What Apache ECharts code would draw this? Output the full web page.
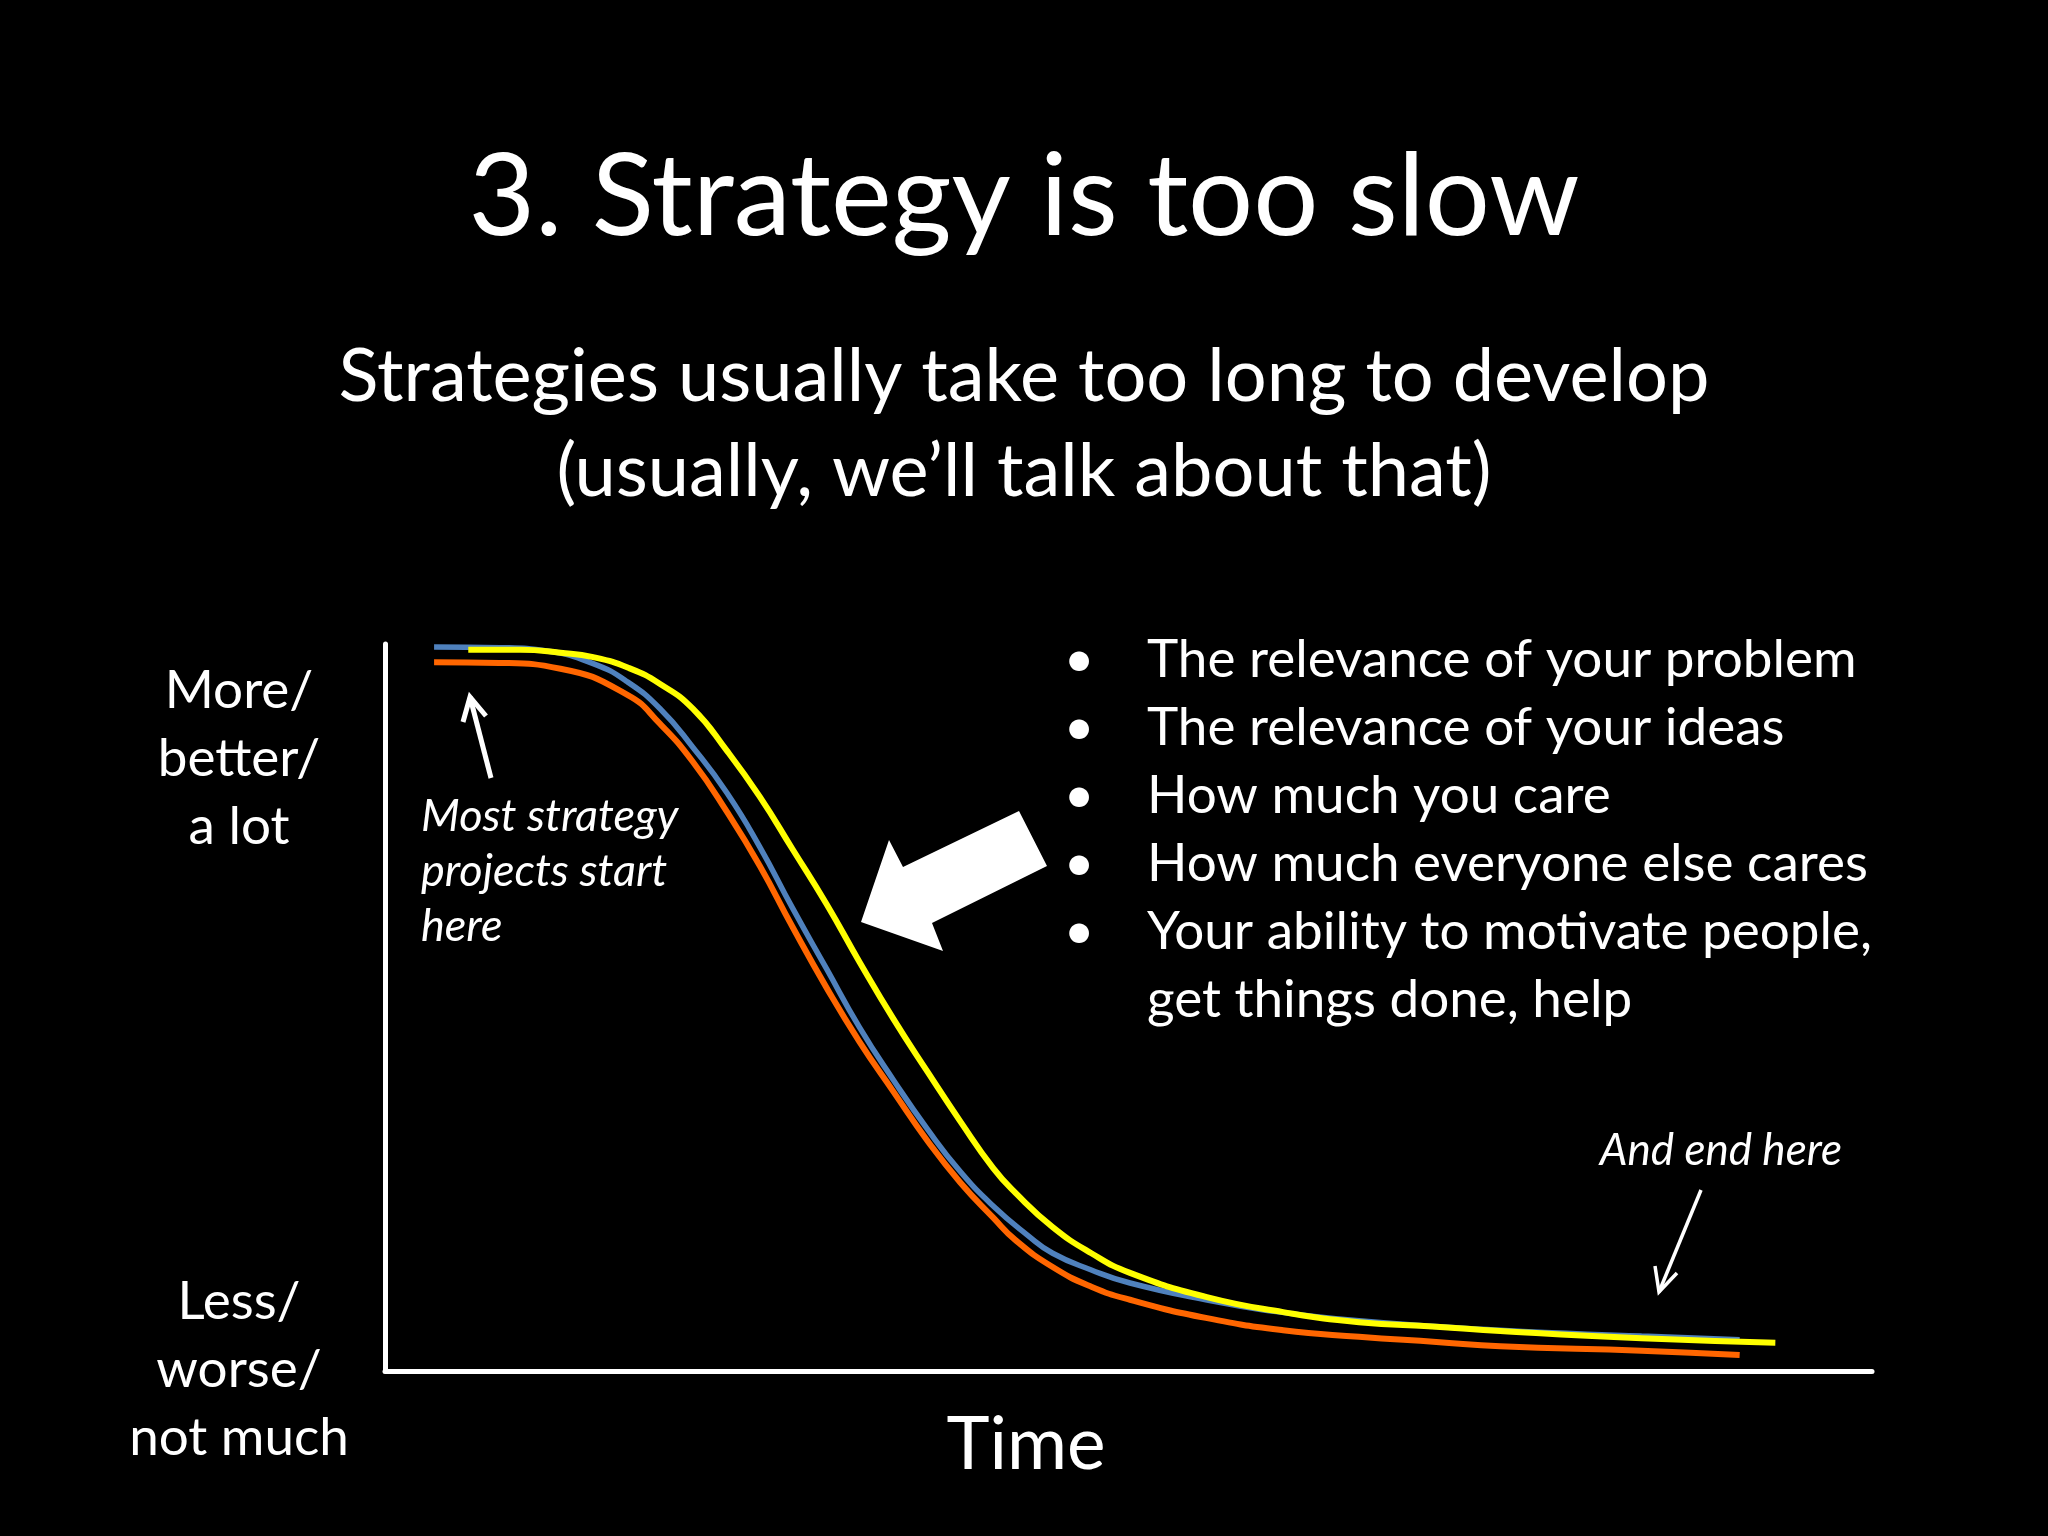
<!DOCTYPE html>
<html>
<head>
<meta charset="utf-8">
<script src="https://cdn.jsdelivr.net/npm/echarts@6/dist/echarts.min.js"></script>
<style>html,body{margin:0;padding:0;background:#000;}#c{width:2048px;height:1536px;}</style>
</head>
<body>
<div id="c"></div>
<script>
// ---- data (time 0-100, level 0-100) ----
var orangeTime  = [3.3, 7.7, 11.8, 16.3, 18.5, 20.7, 23.0, 25.2, 27.4, 29.7, 31.9, 34.2, 36.5, 38.7, 40.9, 42.4, 44.9, 47.5, 50.1, 55.2, 60.4, 65.5, 70.7, 75.0, 84.5, 91.1];
var orangeLevel = [97.5, 97.4, 96.6, 93.0, 89.0, 83.8, 76.9, 69.5, 61.1, 52.7, 45.3, 38.4, 31.6, 25.9, 21.1, 18.0, 14.3, 11.6, 9.8, 7.3, 5.6, 4.7, 4.0, 3.4, 2.8, 2.2];
var blueTime  = [3.3, 7.7, 11.0, 14.0, 16.3, 18.5, 20.7, 23.0, 25.2, 27.4, 29.7, 31.9, 34.2, 36.5, 38.7, 40.9, 43.2, 44.9, 47.5, 50.1, 55.2, 59.1, 65.5, 75.0, 84.5, 91.1];
var blueLevel = [99.6, 99.5, 99.0, 97.3, 94.8, 91.1, 85.8, 79.5, 72.1, 63.7, 55.3, 47.3, 40.0, 33.2, 27.4, 22.7, 18.7, 16.2, 13.9, 12.1, 9.8, 8.4, 6.9, 5.6, 4.8, 4.3];
var yellowTime  = [5.6, 9.1, 11.8, 14.0, 16.4, 18.5, 20.7, 23.0, 25.2, 27.4, 29.7, 31.9, 34.2, 36.5, 38.7, 40.9, 42.4, 44.9, 47.5, 50.1, 55.2, 60.4, 65.5, 70.7, 75.0, 84.5, 93.5];
var yellowLevel = [99.2, 99.2, 98.8, 98.2, 96.7, 94.5, 91.1, 85.3, 79.0, 71.8, 64.2, 56.3, 48.4, 41.1, 34.3, 27.9, 24.5, 19.8, 16.2, 13.5, 10.2, 8.1, 6.7, 6.1, 5.5, 4.5, 3.9];

var titleText = '3. Strategy is too slow';
var subtitleLines = ['Strategies usually take too long to develop', '(usually, we\u2019ll talk about that)'];
var yTopLabel = ['More/', 'better/', 'a lot'];
var yBottomLabel = ['Less/', 'worse/', 'not much'];
var xLabel = 'Time';
var startNote = ['Most strategy', 'projects start', 'here'];
var endNote = 'And end here';
var bullets = ['The relevance of your problem', 'The relevance of your ideas', 'How much you care', 'How much everyone else cares', 'Your ability to motivate people,', 'get things done, help'];

function zip(a, b) { return a.map(function (v, i) { return [v, b[i]]; }); }

var FONT = 'Lato';
var chart = echarts.init(document.getElementById('c'));

var g = [];
// baseline-based placement (middle alignment, baseline ~0.32em below middle)
function txt(x, base, s, size, opts) {
  opts = opts || {};
  g.push({
    type: 'text', x: x, y: base - 0.32 * size, z: 10,
    style: {
      text: s, fill: '#fff', font: (opts.italic ? 'italic ' : '') + size + 'px ' + FONT,
      align: opts.align || 'left', verticalAlign: 'middle'
    }
  });
}
txt(1024, 235, titleText, 115, {align: 'center'});
txt(1024, 401, subtitleLines[0], 74, {align: 'center'});
txt(1024, 496, subtitleLines[1], 74, {align: 'center'});
yTopLabel.forEach(function (s, i) { txt(239, 708 + i * 68, s, 53, {align: 'center'}); });
yBottomLabel.forEach(function (s, i) { txt(239, 1319 + i * 68, s, 53, {align: 'center'}); });
txt(1026, 1469, xLabel, 73, {align: 'center'});
startNote.forEach(function (s, i) { txt(421, 831 + i * 55, s, 45, {italic: true}); });
txt(1842, 1165, endNote, 44, {italic: true, align: 'right'});
bullets.forEach(function (s, i) {
  if (i < 5) txt(1079, 677 + i * 68, '\u2022', 53, {align: 'center'});
  txt(1147, 677 + i * 68, s, 53);
});

// thin arrows
function line(pts, w) {
  g.push({type: 'polyline', z: 10, shape: {points: pts}, style: {stroke: '#fff', lineWidth: w, fill: null, lineCap: 'butt', lineJoin: 'miter'}});
}
line([[491, 778], [470, 697]], 5);
line([[463, 722], [470, 697], [486, 716]], 5);
line([[1701, 1190], [1659, 1292]], 3.5);
line([[1655, 1266], [1659, 1292], [1677, 1273]], 3.5);
// block arrow
g.push({type: 'polygon', z: 10, shape: {points: [[861, 922], [889, 840], [903, 867], [1019, 811], [1047, 866], [932, 923], [943, 951]]}, style: {fill: '#fff'}});

var option = {
  backgroundColor: '#000',
  animation: false,
  grid: {left: 385, top: 644, right: 176, bottom: 165, containLabel: false},
  xAxis: {
    type: 'value', min: 0, max: 100,
    axisLine: {show: true, onZero: false, lineStyle: {color: '#fff', width: 5}},
    axisTick: {show: false}, axisLabel: {show: false}, splitLine: {show: false}
  },
  yAxis: {
    type: 'value', min: 0, max: 100,
    axisLine: {show: true, onZero: false, lineStyle: {color: '#fff', width: 5}},
    axisTick: {show: false}, axisLabel: {show: false}, splitLine: {show: false}
  },
  series: [
    {type: 'line', name: 'orange', data: zip(orangeTime, orangeLevel), smooth: 0.5, showSymbol: false, lineStyle: {color: '#FF6600', width: 6}},
    {type: 'line', name: 'blue', data: zip(blueTime, blueLevel), smooth: 0.5, showSymbol: false, lineStyle: {color: '#4F81BD', width: 5.5}},
    {type: 'line', name: 'yellow', data: zip(yellowTime, yellowLevel), smooth: 0.5, showSymbol: false, lineStyle: {color: '#FFFF00', width: 6}}
  ],
  graphic: g
};
chart.setOption(option);
</script>
</body>
</html>
